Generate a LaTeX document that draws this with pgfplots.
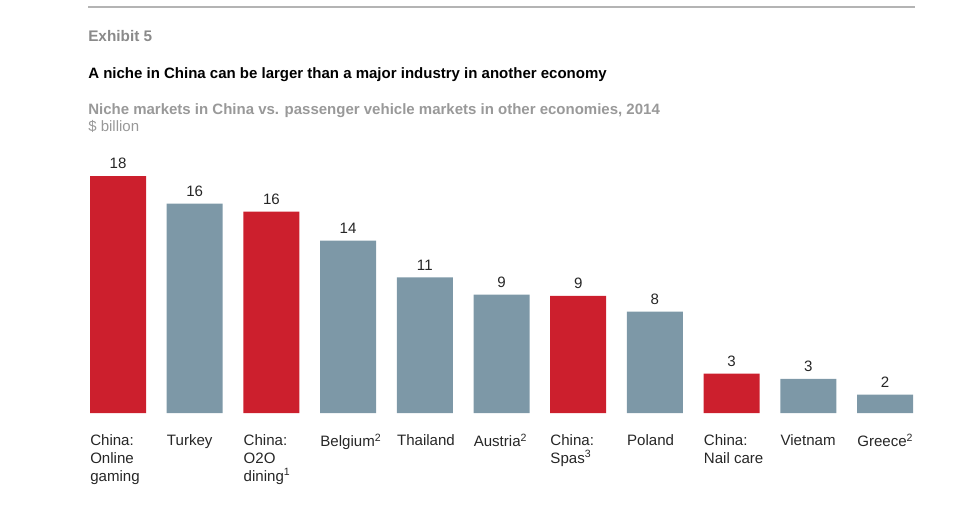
\documentclass[border=0pt]{standalone}
\usepackage{pgfplots}
\pgfplotsset{compat=1.18}
\usepackage{fontspec}
\setmainfont{Liberation Sans}
\definecolor{mred}{HTML}{CC1F2D}
\definecolor{mgray}{HTML}{7D98A7}
\definecolor{txtgray}{HTML}{8A8A8A}
\definecolor{subgray}{HTML}{999999}
\definecolor{rulegray}{HTML}{B4B4B4}
\begin{document}
\begin{tikzpicture}[x=0.75pt,y=0.75pt]
\path[use as bounding box] (0,0) rectangle (965,504);
\draw[rulegray, line width=1.5pt] (88,497) -- (915,497);
\node[anchor=base west, inner sep=0pt, text=txtgray, font=\bfseries\fontsize{11.5}{13}\selectfont] at (88,462) {Exhibit 5};
\node[anchor=base west, inner sep=0pt, text=black, font=\bfseries\fontsize{11.25}{13}\selectfont] at (88,425.5) {A niche in China can be larger than a major industry in another economy};
\node[anchor=base west, inner sep=0pt, text=subgray, font=\bfseries\fontsize{11.25}{13}\selectfont] at (88,389.5) {Niche markets in China vs. passenger vehicle markets in other economies, 2014};
\node[anchor=base west, inner sep=0pt, text=subgray, font=\fontsize{11.25}{13}\selectfont] at (88,372) {\$ billion};
\begin{axis}[
  at={(59.74pt,68.25pt)}, anchor=south west,
  scale only axis, width=632.8pt, height=197.5pt,
  xmin=-0.5, xmax=10.5, ymin=0, ymax=20,
  axis line style={draw=none}, major tick length=0pt,
  ytick=\empty,
  xtick={0,...,10},
  xticklabels={{China:\\Online\\gaming},Turkey,{China:\\O2O\\dining\textsuperscript{1}},Belgium\textsuperscript{2},Thailand,Austria\textsuperscript{2},{China:\\Spas\textsuperscript{3}},Poland,{China:\\Nail care},Vietnam,Greece\textsuperscript{2}},
  xticklabel style={anchor=north west, inner sep=0pt, xshift=-21pt, yshift=-15.75pt, align=left, text=black!85, font=\fontsize{11.3}{13.5}\selectfont},
  ybar, bar width=42pt, bar shift=0pt,
  nodes near coords, point meta=explicit symbolic,
  nodes near coords style={anchor=south, inner sep=0pt, yshift=5pt, text=black!85, font=\fontsize{11.3}{13}\selectfont},
  clip=false,
]
\addplot[fill=mred, draw=none] table[meta=l] {
x y l
0 18.0 18
2 15.3 16
6 8.9 9
8 3.0 3
};
\addplot[fill=mgray, draw=none] table[meta=l] {
x y l
1 15.9 16
3 13.1 14
4 10.3 11
5 9.0 9
7 7.7 8
9 2.6 3
10 1.4 2
};
\end{axis}
\end{tikzpicture}
\end{document}
